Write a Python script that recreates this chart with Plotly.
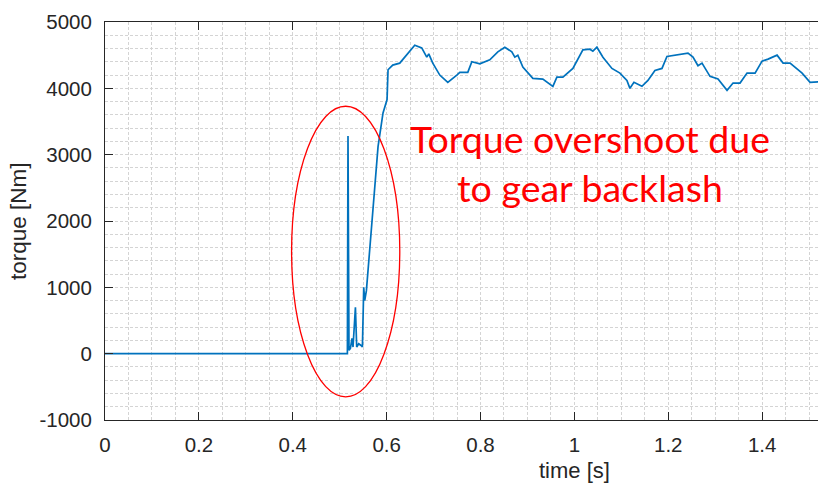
import plotly.graph_objects as go

# ---- data ----
time_s = [0.0, 0.5164, 0.5177, 0.5198, 0.5228, 0.5262, 0.5284, 0.5335, 0.5362, 0.5405,
          0.5463, 0.5484, 0.5512, 0.5533, 0.5569, 0.5817, 0.5923, 0.5959, 0.6009, 0.6030,
          0.6066, 0.6130, 0.6279, 0.6429, 0.6599, 0.6748, 0.6855, 0.6898, 0.6983, 0.7132,
          0.7303, 0.7495, 0.7559, 0.7729, 0.7815, 0.7985, 0.8198, 0.8369, 0.8518, 0.8667,
          0.8731, 0.8795, 0.8902, 0.9115, 0.9328, 0.9542, 0.9627, 0.9755, 0.9968, 1.0181,
          1.0330, 1.0394, 1.0480, 1.0608, 1.0800, 1.0970, 1.1119, 1.1183, 1.1269, 1.1439,
          1.1567, 1.1716, 1.1866, 1.1972, 1.2186, 1.2420, 1.2527, 1.2633, 1.2719, 1.2889,
          1.3060, 1.3252, 1.3380, 1.3529, 1.3678, 1.3849, 1.3998, 1.4126, 1.4318, 1.4446,
          1.4595, 1.4851, 1.5021, 1.5171, 1.5250]
torque_nm = [0, 0, 3280, 50, 80, 230, 100, 700, 100, 150,
             120, 100, 1000, 800, 950, 3120, 3630, 3720, 3830, 4280,
             4300, 4350, 4380, 4500, 4650, 4610, 4470, 4520, 4380, 4200,
             4090, 4200, 4240, 4240, 4400, 4370, 4430, 4550, 4620, 4550,
             4470, 4500, 4320, 4150, 4140, 4030, 4170, 4170, 4300, 4580,
             4590, 4560, 4620, 4470, 4300, 4230, 4120, 4000, 4090, 4030,
             4120, 4270, 4300, 4480, 4500, 4530, 4470, 4340, 4380, 4180,
             4140, 3970, 4080, 4080, 4230, 4230, 4410, 4440, 4500, 4380,
             4380, 4230, 4090, 4090, 4100]

x_tick_vals = [0, 0.2, 0.4, 0.6, 0.8, 1.0, 1.2, 1.4]
x_tick_text = ["0", "0.2", "0.4", "0.6", "0.8", "1", "1.2", "1.4"]
y_tick_vals = [-1000, 0, 1000, 2000, 3000, 4000, 5000]
y_tick_text = ["-1000", "0", "1000", "2000", "3000", "4000", "5000"]

x_label = "time [s]"
y_label = "torque [Nm]"
note_text = "Torque overshoot due<br>to gear backlash"

# ellipse highlighting the overshoot (data coordinates)
ellipse_x = [0.3975, 0.628]
ellipse_y = [-650, 3730]
note_pos = [1.033, 2870]
x_range = [0, 1.519]
y_range = [-1000, 5000]

TXT = "#262626"
GRID = "#d4d4d4"

fig = go.Figure()
fig.add_trace(go.Scatter(x=time_s, y=torque_nm, mode="lines",
                         line=dict(color="#0072BD", width=1.7), hoverinfo="skip"))

fig.update_layout(
    width=818, height=485,
    margin=dict(l=105, r=0, t=22, b=65, pad=0),
    paper_bgcolor="white", plot_bgcolor="white",
    showlegend=False,
    font=dict(family="Liberation Sans, Arial, sans-serif", size=20.5, color=TXT),
)

fig.update_xaxes(
    range=x_range, tickvals=x_tick_vals, ticktext=x_tick_text,
    showline=True, linecolor=TXT, linewidth=1, mirror="ticks",
    ticks="inside", ticklen=8, tickcolor=TXT, tickwidth=1,
    showgrid=True, gridcolor=GRID, griddash="3px,2px", gridwidth=1,
    minor=dict(dtick=0.05, showgrid=True, gridcolor=GRID, griddash="3px,2px", ticks=""),
    zeroline=False, ticklabelstandoff=6,
)
fig.update_yaxes(
    range=y_range, tickvals=y_tick_vals, ticktext=y_tick_text,
    showline=True, linecolor=TXT, linewidth=1, mirror=False,
    ticks="inside", ticklen=8, tickcolor=TXT, tickwidth=1,
    showgrid=True, gridcolor=GRID, griddash="3px,2px", gridwidth=1,
    minor=dict(dtick=200, showgrid=True, gridcolor=GRID, griddash="3px,2px", ticks=""),
    zeroline=False, ticklabelstandoff=8,
)

fig.add_shape(type="circle", xref="x", yref="y",
              x0=ellipse_x[0], x1=ellipse_x[1], y0=ellipse_y[0], y1=ellipse_y[1],
              line=dict(color="#ff0000", width=1.3))

fig.add_annotation(x=note_pos[0], y=note_pos[1], xref="x", yref="y", text=note_text,
                   showarrow=False, font=dict(family="Lato, sans-serif", size=37.5, color="#ff0000"),
                   align="center", xanchor="center", yanchor="middle")

fig.add_annotation(x=1.0, y=0, xref="x", yref="paper", text=x_label, showarrow=False,
                   font=dict(size=22, color=TXT), xanchor="center", yanchor="top", yshift=-36)
fig.add_annotation(x=0, y=0.5, xref="paper", yref="paper", text=y_label, showarrow=False,
                   font=dict(size=22.5, color=TXT), textangle=-90,
                   xanchor="center", yanchor="middle", xshift=-87)

fig.write_html("out.html")
